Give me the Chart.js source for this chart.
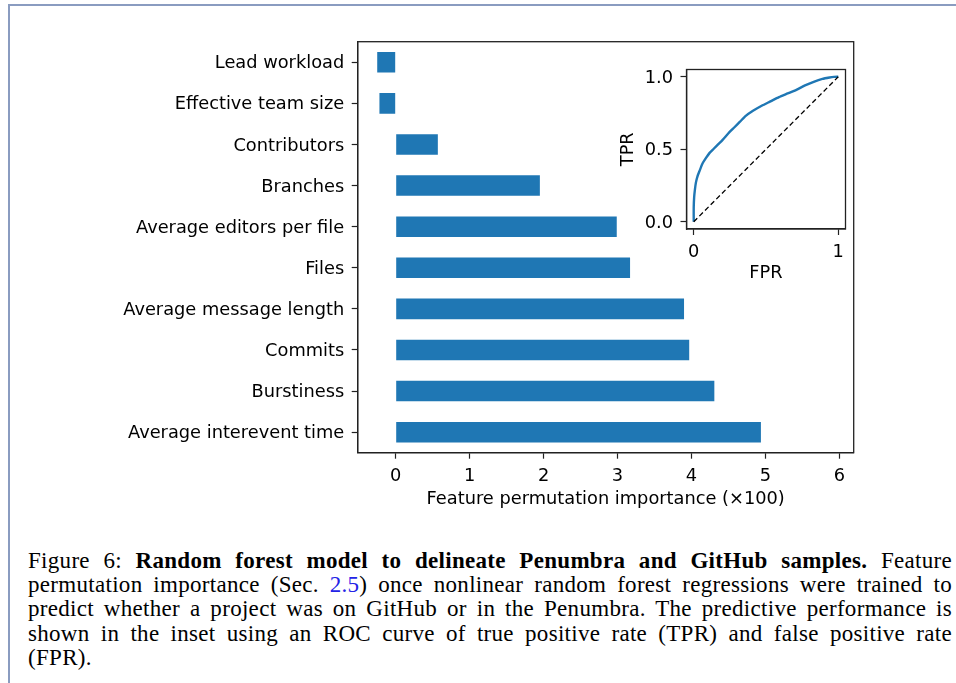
<!DOCTYPE html>
<html>
<head>
<meta charset="utf-8">
<script src="https://cdn.jsdelivr.net/npm/chart.js@4.4.1/dist/chart.umd.min.js"></script>
<style>
body { margin: 0; background: #fff; width: 956px; height: 683px; overflow: hidden; position: relative; }
#frame { position: absolute; left: 8px; top: 4px; width: 1000px; height: 1000px;
         border-left: 2px solid #8a9cc0; border-top: 2px solid #8a9cc0; }
#main { position: absolute; left: 0; top: 0; }
#inset { position: absolute; left: 590px; top: 50px; }
#caption { position: absolute; left: 28px; top: 548.5px; width: 924px; color: #000;
           font-family: "Liberation Serif", serif; font-size: 23px; letter-spacing: 0.3px;
           line-height: 24.35px; }
#caption div { text-align: justify; text-align-last: justify; white-space: nowrap; }
#caption div.last { text-align-last: left; }
#caption .link { color: #2323e6; }
</style>
</head>
<body>
<div id="frame"></div>
<canvas id="main" width="956" height="520"></canvas>
<canvas id="inset" width="265" height="240"></canvas>
<div id="caption">
  <div>Figure 6: <b>Random forest model to delineate Penumbra and GitHub samples.</b> Feature</div>
  <div>permutation importance (Sec. <span class="link">2.5</span>) once nonlinear random forest regressions were trained to</div>
  <div>predict whether a project was on GitHub or in the Penumbra. The predictive performance is</div>
  <div>shown in the inset using an ROC curve of true positive rate (TPR) and false positive rate</div>
  <div class="last">(FPR).</div>
</div>
<script>
// feature importance (x100), top to bottom as in the figure
var features = ["Lead workload", "Effective team size", "Contributors", "Branches",
    "Average editors per file", "Files", "Average message length", "Commits",
    "Burstiness", "Average interevent time"];
var importance = [-0.25, -0.22, 0.57, 1.95, 2.99, 3.17, 3.90, 3.97, 4.31, 4.94];
var xTicks = [0, 1, 2, 3, 4, 5, 6];

// ROC curve for the inset
var fpr = [0, 0, 0.003, 0.008, 0.015, 0.025, 0.04, 0.06, 0.085, 0.11, 0.14, 0.17, 0.2, 0.24,
    0.28, 0.32, 0.36, 0.41, 0.47, 0.53, 0.59, 0.65, 0.71, 0.77, 0.83, 0.89, 0.94, 0.97, 1];
var tpr = [0, 0.1, 0.17, 0.22, 0.27, 0.31, 0.35, 0.4, 0.44, 0.475, 0.505, 0.535, 0.565, 0.61,
    0.65, 0.69, 0.73, 0.765, 0.8, 0.83, 0.86, 0.885, 0.91, 0.94, 0.965, 0.985, 0.995, 0.999, 1];
var chance = [0, 1];
var insetXTicks = [0, 1];
var insetYTicks = [0, 0.5, 1];

var ink = "#222";
var font = { family: "DejaVu Sans", size: 17.8 };

// matplotlib style box around the axes
var boxPlugin = {
    id: "box",
    afterDraw: function(chart) {
        var a = chart.chartArea, ctx = chart.ctx;
        ctx.save();
        ctx.strokeStyle = ink;
        ctx.lineWidth = 1.3;
        ctx.strokeRect(a.left, a.top, a.right - a.left, a.bottom - a.top);
        ctx.restore();
    }
};

function setTicks(values) {
    return function(scale) {
        scale.ticks = values.map(function(v) { return { value: v }; });
    };
}

function axisGrid() {
    return { display: true, drawOnChartArea: false, offset: false,
             tickLength: 6, tickColor: ink, tickWidth: 1.2 };
}

new Chart(document.getElementById("main"), {
    type: "bar",
    data: {
        labels: features,
        datasets: [{
            data: importance,
            backgroundColor: "#1f77b4",
            borderWidth: 0,
            barPercentage: 0.5,
            categoryPercentage: 1
        }]
    },
    options: {
        indexAxis: "y",
        responsive: false,
        animation: false,
        layout: { padding: { left: 0, top: 41.7, right: 102.3, bottom: 0 } },
        plugins: { legend: { display: false }, tooltip: { enabled: false } },
        scales: {
            x: {
                type: "linear", min: -0.514, max: 6.195,
                afterBuildTicks: setTicks(xTicks),
                afterFit: function(s) { s.height = 67.3; },
                grid: axisGrid(),
                border: { display: true, color: ink, width: 1.3 },
                ticks: { color: "#000", font: font, padding: 7, maxRotation: 0,
                         callback: function(v) { return String(v); } },
                title: { display: true, text: "Feature permutation importance (\u00d7100)",
                         color: "#000", font: font, padding: { top: 0, bottom: 10 } }
            },
            y: {
                afterFit: function(s) { s.width = 357.7; },
                grid: axisGrid(),
                border: { display: true, color: ink, width: 1.3 },
                ticks: { color: "#000", font: font, padding: 7.5, labelOffset: 1.5 }
            }
        }
    },
    plugins: [boxPlugin]
});

new Chart(document.getElementById("inset"), {
    type: "scatter",
    data: {
        datasets: [{
            data: chance.map(function(v) { return { x: v, y: v }; }),
            showLine: true, borderColor: "#000", borderWidth: 1.3,
            borderDash: [5, 3], pointRadius: 0
        }, {
            data: fpr.map(function(v, i) { return { x: v, y: tpr[i] }; }),
            showLine: true, borderColor: "#1f77b4", borderWidth: 2.4,
            pointRadius: 0, tension: 0.2
        }]
    },
    options: {
        responsive: false,
        animation: false,
        layout: { padding: { left: 0, top: 19.5, right: 9.5, bottom: 0 } },
        plugins: { legend: { display: false }, tooltip: { enabled: false } },
        scales: {
            x: {
                type: "linear", min: -0.05, max: 1.05,
                afterBuildTicks: setTicks(insetXTicks),
                afterFit: function(s) { s.height = 61; },
                grid: axisGrid(),
                border: { display: true, color: ink, width: 1.3 },
                ticks: { color: "#000", font: font, padding: 7, maxRotation: 0,
                         callback: function(v) { return String(v); } },
                title: { display: true, text: "FPR", color: "#000", font: font,
                         padding: { top: 0, bottom: 5.5 } }
            },
            y: {
                type: "linear", min: -0.05, max: 1.05,
                afterBuildTicks: setTicks(insetYTicks),
                afterFit: function(s) { s.width = 96.5; },
                grid: axisGrid(),
                border: { display: true, color: ink, width: 1.3 },
                ticks: { color: "#000", font: font, padding: 7.5, labelOffset: 1.5,
                         callback: function(v) { return v.toFixed(1); } },
                title: { display: true, text: "TPR", color: "#000", font: font,
                         padding: { top: 27.5, bottom: 0 } }
            }
        }
    },
    plugins: [boxPlugin]
});
</script>
</body>
</html>
